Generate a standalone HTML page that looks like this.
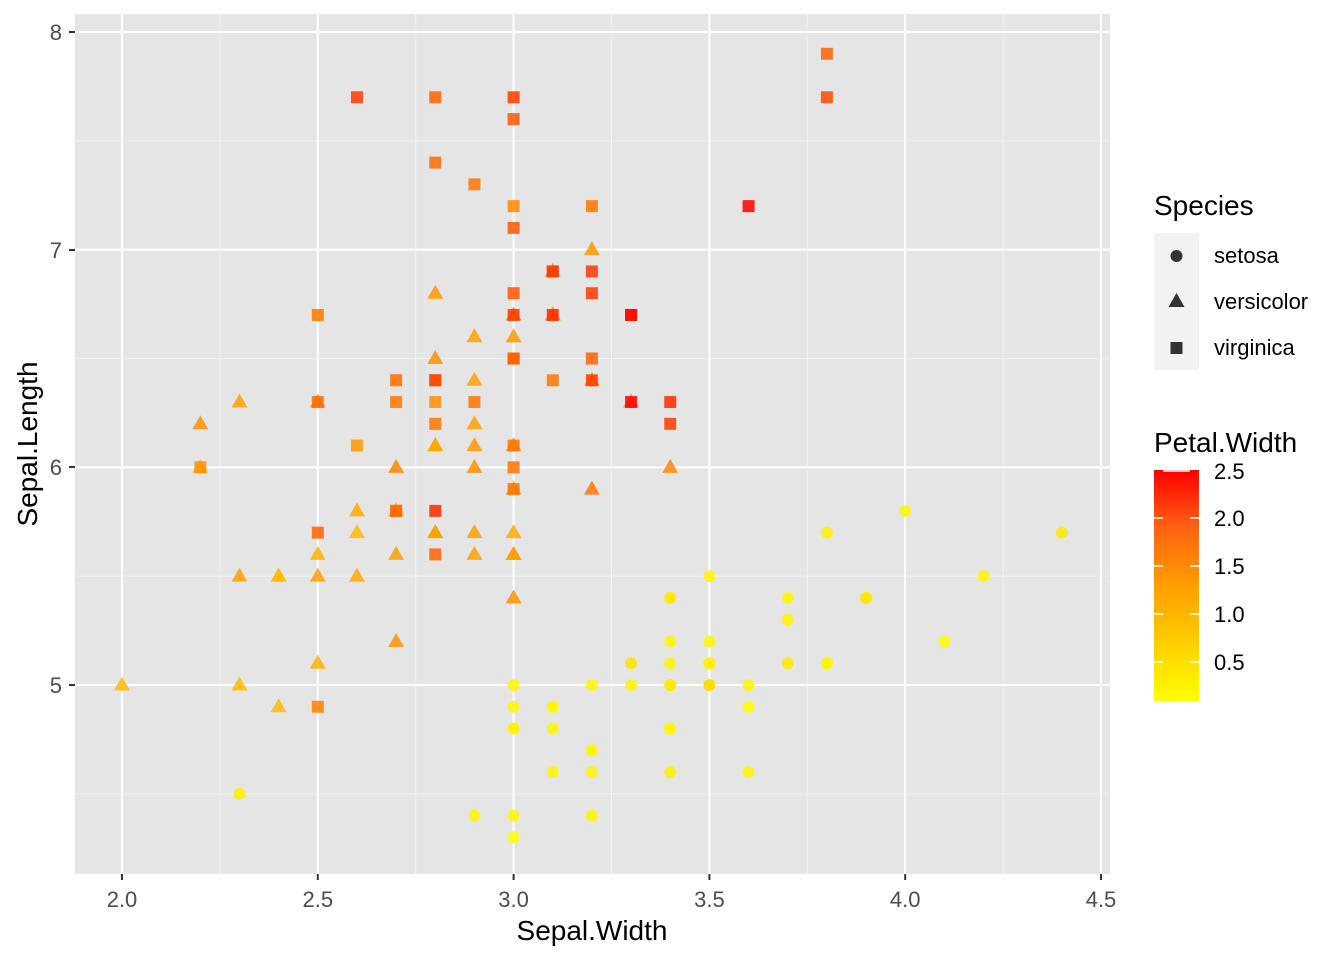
<!DOCTYPE html>
<html><head><meta charset="utf-8"><style>
html,body{margin:0;padding:0;background:#fff;}
svg{display:block;font-family:"Liberation Sans",Arial,sans-serif;}
</style></head><body>
<svg id="s" width="1344" height="960" viewBox="0 0 1344 960" xmlns="http://www.w3.org/2000/svg">
<defs>
<linearGradient id="cb" x1="0" y1="1" x2="0" y2="0">
<stop offset="0" stop-color="#FFFF00"/>
<stop offset="0.25" stop-color="#FFCF00"/>
<stop offset="0.5" stop-color="#FF9E00"/>
<stop offset="0.75" stop-color="#FF6212"/>
<stop offset="1" stop-color="#FF0000"/>
</linearGradient>
</defs>
<rect x="75" y="14" width="1035" height="860" fill="#E5E5E5"/>
<g id="grid"></g>
<g id="pts"></g>
<g font-size="22" fill="#4D4D4D" text-anchor="end">
<text x="62" y="693">5</text><text x="62" y="475">6</text><text x="62" y="258">7</text><text x="62" y="40">8</text>
</g>
<g stroke="#333" stroke-width="2">
<line x1="69" x2="75" y1="685" y2="685"/><line x1="69" x2="75" y1="467" y2="467"/><line x1="69" x2="75" y1="250" y2="250"/><line x1="69" x2="75" y1="32" y2="32"/>
</g>
<g id="xt" font-size="22" fill="#4D4D4D" text-anchor="middle"></g>
<text x="592" y="940" font-size="28" text-anchor="middle" fill="#000">Sepal.Width</text>
<text transform="translate(37,444) rotate(-90)" font-size="28" text-anchor="middle" fill="#000">Sepal.Length</text>
<text x="1154" y="215" font-size="28" fill="#000">Species</text>
<rect x="1154" y="233" width="45" height="137" fill="#F2F2F2"/>
<circle cx="1176.5" cy="256" r="6" fill="#333"/>
<polygon points="1176.5,293 1184.5,307 1168.5,307" fill="#333"/>
<rect x="1170.5" y="342" width="12" height="12" fill="#333"/>
<g font-size="22" fill="#000">
<text x="1214" y="263">setosa</text><text x="1214" y="309">versicolor</text><text x="1214" y="355">virginica</text>
</g>
<text x="1154" y="452" font-size="28" fill="#000">Petal.Width</text>
<rect x="1154" y="470" width="45" height="231" fill="url(#cb)"/>
<g stroke="#fff" stroke-width="1.5">
<line x1="1154" x2="1163" y1="518" y2="518"/><line x1="1190" x2="1199" y1="518" y2="518"/>
<line x1="1154" x2="1163" y1="566" y2="566"/><line x1="1190" x2="1199" y1="566" y2="566"/>
<line x1="1154" x2="1163" y1="614" y2="614"/><line x1="1190" x2="1199" y1="614" y2="614"/>
<line x1="1154" x2="1163" y1="662" y2="662"/><line x1="1190" x2="1199" y1="662" y2="662"/>
<line x1="1163" x2="1190" y1="471" y2="471"/>
</g>
<g font-size="22" fill="#000">
<text x="1214" y="479">2.5</text><text x="1214" y="526">2.0</text><text x="1214" y="574">1.5</text><text x="1214" y="622">1.0</text><text x="1214" y="670">0.5</text>
</g>
</svg>
<script>
var NS="http://www.w3.org/2000/svg";
function X(v){return 122+(v-2)*391.6;}
function Y(v){return 32+(8-v)*217.67;}
function el(t,a,p){var e=document.createElementNS(NS,t);for(var k in a)e.setAttribute(k,a[k]);p.appendChild(e);return e;}
var g=document.getElementById('grid');
[2.25,2.75,3.25,3.75,4.25].forEach(function(v){el('line',{x1:X(v),x2:X(v),y1:14,y2:874,stroke:'#F2F2F2','stroke-width':1},g);});
[4.5,5.5,6.5,7.5].forEach(function(v){el('line',{y1:Y(v),y2:Y(v),x1:75,x2:1110,stroke:'#F2F2F2','stroke-width':1},g);});
var xt=document.getElementById('xt');
[2,2.5,3,3.5,4,4.5].forEach(function(v){el('line',{x1:X(v),x2:X(v),y1:14,y2:874,stroke:'#fff','stroke-width':2},g);
el('line',{x1:X(v),x2:X(v),y1:874,y2:880,stroke:'#333','stroke-width':2},document.getElementById('s'));
var t=el('text',{x:X(v),y:907},xt);t.textContent=v.toFixed(1);});
[5,6,7,8].forEach(function(v){el('line',{y1:Y(v),y2:Y(v),x1:75,x2:1110,stroke:'#fff','stroke-width':2},g);});
function srgb2lin(c){c/=255;return c<=0.04045?c/12.92:Math.pow((c+0.055)/1.055,2.4);}
function lin2srgb(c){c=c<=0.0031308?12.92*c:1.055*Math.pow(c,1/2.4)-0.055;return Math.max(0,Math.min(255,Math.round(c*255)));}
function f(t){return t>0.008856?Math.cbrt(t):7.787*t+16/116;}
function fi(t){return t>0.206893?t*t*t:(t-16/116)/7.787;}
function toLab(r,gg,b){r=srgb2lin(r);gg=srgb2lin(gg);b=srgb2lin(b);
var x=(0.4124*r+0.3576*gg+0.1805*b)/0.95047,y=0.2126*r+0.7152*gg+0.0722*b,z=(0.0193*r+0.1192*gg+0.9505*b)/1.08883;
return [116*f(y)-16,500*(f(x)-f(y)),200*(f(y)-f(z))];}
function fromLab(L,a,b){var fy=(L+16)/116,fx=fy+a/500,fz=fy-b/200;var x=fi(fx)*0.95047,y=fi(fy),z=fi(fz)*1.08883;
var r=3.2406*x-1.5372*y-0.4986*z,gg=-0.9689*x+1.8758*y+0.0415*z,bb=0.0557*x-0.2040*y+1.0570*z;
return 'rgb('+lin2srgb(r)+','+lin2srgb(gg)+','+lin2srgb(bb)+')';}
var A=toLab(255,255,0),B=toLab(255,0,0);
function col(w){var t=(w-0.1)/2.4;return fromLab(A[0]+(B[0]-A[0])*t,A[1]+(B[1]-A[1])*t,A[2]+(B[2]-A[2])*t);}
var se=[[5.1,3.5,0.2],[4.9,3.0,0.2],[4.7,3.2,0.2],[4.6,3.1,0.2],[5.0,3.6,0.2],[5.4,3.9,0.4],[4.6,3.4,0.3],[5.0,3.4,0.2],[4.4,2.9,0.2],[4.9,3.1,0.1],[5.4,3.7,0.2],[4.8,3.4,0.2],[4.8,3.0,0.1],[4.3,3.0,0.1],[5.8,4.0,0.2],[5.7,4.4,0.4],[5.4,3.9,0.4],[5.1,3.5,0.3],[5.7,3.8,0.3],[5.1,3.8,0.3],[5.4,3.4,0.2],[5.1,3.7,0.4],[4.6,3.6,0.2],[5.1,3.3,0.5],[4.8,3.4,0.2],[5.0,3.0,0.2],[5.0,3.4,0.4],[5.2,3.5,0.2],[5.2,3.4,0.2],[4.7,3.2,0.2],[4.8,3.1,0.2],[5.4,3.4,0.4],[5.2,4.1,0.1],[5.5,4.2,0.2],[4.9,3.1,0.2],[5.0,3.2,0.2],[5.5,3.5,0.2],[4.9,3.6,0.1],[4.4,3.0,0.2],[5.1,3.4,0.2],[5.0,3.5,0.3],[4.5,2.3,0.3],[4.4,3.2,0.2],[5.0,3.5,0.6],[5.1,3.8,0.4],[4.8,3.0,0.3],[5.1,3.8,0.2],[4.6,3.2,0.2],[5.3,3.7,0.2],[5.0,3.3,0.2]];
var ve=[[7.0,3.2,1.4],[6.4,3.2,1.5],[6.9,3.1,1.5],[5.5,2.3,1.3],[6.5,2.8,1.5],[5.7,2.8,1.3],[6.3,3.3,1.6],[4.9,2.4,1.0],[6.6,2.9,1.3],[5.2,2.7,1.4],[5.0,2.0,1.0],[5.9,3.0,1.5],[6.0,2.2,1.0],[6.1,2.9,1.4],[5.6,2.9,1.3],[6.7,3.1,1.4],[5.6,3.0,1.5],[5.8,2.7,1.0],[6.2,2.2,1.5],[5.6,2.5,1.1],[5.9,3.2,1.8],[6.1,2.8,1.3],[6.3,2.5,1.5],[6.1,2.8,1.2],[6.4,2.9,1.3],[6.6,3.0,1.4],[6.8,2.8,1.4],[6.7,3.0,1.7],[6.0,2.9,1.5],[5.7,2.6,1.0],[5.5,2.4,1.1],[5.5,2.4,1.0],[5.8,2.7,1.2],[6.0,2.7,1.6],[5.4,3.0,1.5],[6.0,3.4,1.6],[6.7,3.1,1.5],[6.3,2.3,1.3],[5.6,3.0,1.3],[5.5,2.5,1.3],[5.5,2.6,1.2],[6.1,3.0,1.4],[5.8,2.6,1.2],[5.0,2.3,1.0],[5.6,2.7,1.3],[5.7,3.0,1.2],[5.7,2.9,1.3],[6.2,2.9,1.3],[5.1,2.5,1.1],[5.7,2.8,1.3]];
var vi=[[6.3,3.3,2.5],[5.8,2.7,1.9],[7.1,3.0,2.1],[6.3,2.9,1.8],[6.5,3.0,2.2],[7.6,3.0,2.1],[4.9,2.5,1.7],[7.3,2.9,1.8],[6.7,2.5,1.8],[7.2,3.6,2.5],[6.5,3.2,2.0],[6.4,2.7,1.9],[6.8,3.0,2.1],[5.7,2.5,2.0],[5.8,2.8,2.4],[6.4,3.2,2.3],[6.5,3.0,1.8],[7.7,3.8,2.2],[7.7,2.6,2.3],[6.0,2.2,1.5],[6.9,3.2,2.3],[5.6,2.8,2.0],[7.7,2.8,2.0],[6.3,2.7,1.8],[6.7,3.3,2.1],[7.2,3.2,1.8],[6.2,2.8,1.8],[6.1,3.0,1.8],[6.4,2.8,2.1],[7.2,3.0,1.6],[7.4,2.8,1.9],[7.9,3.8,2.0],[6.4,2.8,2.2],[6.3,2.8,1.5],[6.1,2.6,1.4],[7.7,3.0,2.3],[6.3,3.4,2.4],[6.4,3.1,1.8],[6.0,3.0,1.8],[6.9,3.1,2.1],[6.7,3.1,2.4],[6.9,3.1,2.3],[5.8,2.7,1.9],[6.8,3.2,2.3],[6.7,3.3,2.5],[6.7,3.0,2.3],[6.3,2.5,1.9],[6.5,3.0,2.0],[6.2,3.4,2.3],[5.9,3.0,1.8]];
var p=document.getElementById('pts');
se.forEach(function(d){el('circle',{cx:X(d[1]),cy:Y(d[0]),r:6,fill:col(d[2]),'fill-opacity':0.85},p);});
ve.forEach(function(d){var x=X(d[1]),y=Y(d[0]);el('polygon',{points:x+','+(y-8.5)+' '+(x+8)+','+(y+5.5)+' '+(x-8)+','+(y+5.5),fill:col(d[2]),'fill-opacity':0.85},p);});
vi.forEach(function(d){var x=X(d[1]),y=Y(d[0]);el('rect',{x:x-6,y:y-6,width:12,height:12,fill:col(d[2]),'fill-opacity':0.85},p);});
</script>
</body></html>
